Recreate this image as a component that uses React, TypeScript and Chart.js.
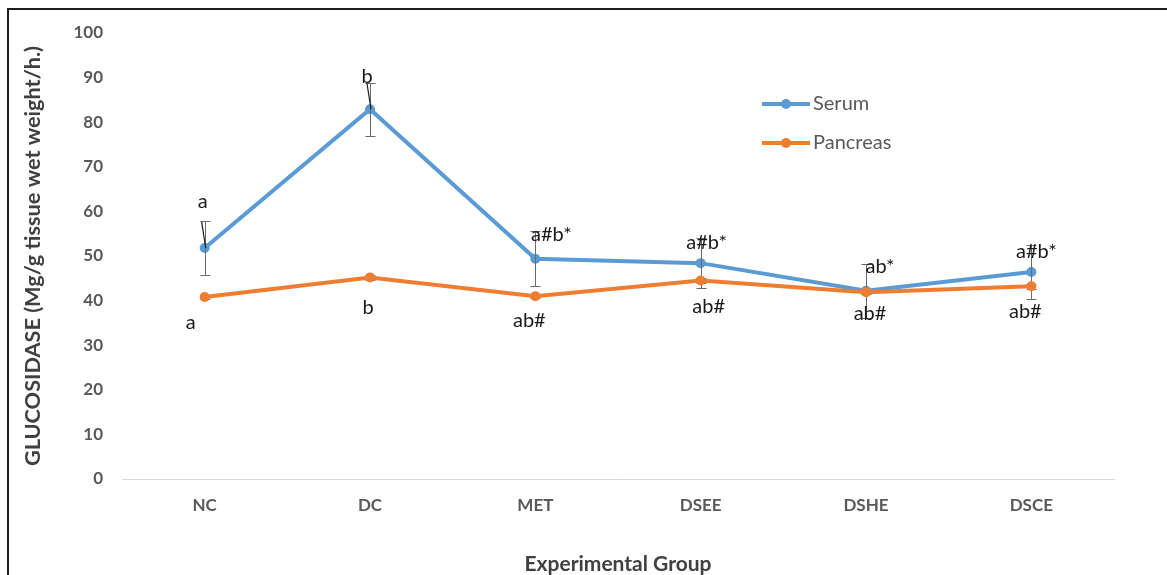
import React, { useEffect, useRef } from "react";
import { Chart, registerables } from "chart.js";

Chart.register(...registerables);

// ---- data ----
const categories = ["NC", "DC", "MET", "DSEE", "DSHE", "DSCE"];
const serumValues = [51.8, 82.9, 49.4, 48.4, 42.2, 46.4];
const serumErrors = [6.1, 6.0, 6.1, 5.6, 6.0, 6.0];
const pancreasValues = [40.8, 45.2, 41.0, 44.5, 41.9, 43.2];
const pancreasErrors = [0.5, 0.5, 0.5, 0.6, 0.5, 0.5];
const serumLabels = ["a", "b", "a#b*", "a#b*", "ab*", "a#b*"];
const pancreasLabels = ["a", "b", "ab#", "ab#", "ab#", "ab#"];
const serumLeaders = [true, true, false, false, false, false];
const yMin = 0;
const yMax = 100;
const yStep = 10;

// ---- layout / style (not data) ----
const SERUM_COLOR = "#5B9BD5";
const PANCREAS_COLOR = "#ED7D31";
const FONT = "Lato";
const serumLabelOffsets = [[-2, -46], [-3, -33], [16, -24], [6, -21], [14, -24], [5, -21]];
const pancreasLabelOffsets = [[-14, 26], [-2, 30], [-6, 24], [8, 26], [4, 21], [-6, 25]];

function drawErrorBars(chart: any, values: number[], errors: number[]) {
  const { ctx, scales } = chart;
  const x = scales.x;
  const y = scales.y;
  ctx.save();
  ctx.strokeStyle = "#6b6b6b";
  ctx.lineWidth = 1;
  values.forEach((v, i) => {
    const px = Math.round(x.getPixelForValue(i)) + 0.5;
    const yt = Math.round(y.getPixelForValue(v + errors[i])) + 0.5;
    const yb = Math.round(y.getPixelForValue(v - errors[i])) + 0.5;
    ctx.beginPath();
    ctx.moveTo(px, yt);
    ctx.lineTo(px, yb);
    ctx.moveTo(px - 5, yt);
    ctx.lineTo(px + 5, yt);
    ctx.moveTo(px - 5, yb);
    ctx.lineTo(px + 5, yb);
    ctx.stroke();
  });
  ctx.restore();
}

const annotationPlugin = {
  id: "annotations",
  beforeDatasetDraw(chart: any, args: any) {
    // pancreas error bars sit beneath the pancreas line
    if (args.index === 1) drawErrorBars(chart, pancreasValues, pancreasErrors);
  },
  afterDatasetDraw(chart: any, args: any) {
    if (args.index === 0) drawErrorBars(chart, serumValues, serumErrors);
  },
  afterDatasetsDraw(chart: any) {
    const { ctx, scales } = chart;
    const x = scales.x;
    const y = scales.y;
    ctx.save();
    // leader lines
    ctx.strokeStyle = "#1a1a1a";
    ctx.lineWidth = 1.2;
    serumValues.forEach((v, i) => {
      if (!serumLeaders[i]) return;
      const px = x.getPixelForValue(i);
      const py = y.getPixelForValue(v);
      const yt = y.getPixelForValue(v + serumErrors[i]);
      ctx.beginPath();
      ctx.moveTo(px - 3, yt + 1);
      ctx.lineTo(px + 1, py);
      ctx.stroke();
    });
    // significance labels
    ctx.fillStyle = "#1a1a1a";
    ctx.font = `20px ${FONT}`;
    ctx.textAlign = "center";
    ctx.textBaseline = "middle";
    serumValues.forEach((v, i) => {
      const px = x.getPixelForValue(i);
      const py = y.getPixelForValue(v);
      const [dx, dy] = serumLabelOffsets[i];
      ctx.fillText(serumLabels[i], px + dx, py + dy);
    });
    pancreasValues.forEach((v, i) => {
      const px = x.getPixelForValue(i);
      const py = y.getPixelForValue(v);
      const [dx, dy] = pancreasLabelOffsets[i];
      ctx.fillText(pancreasLabels[i], px + dx, py + dy);
    });
    // legend
    const area = chart.chartArea;
    const lx = area.left + 640;
    const legendRows = [area.top + 71, area.top + 110];
    chart.data.datasets.forEach((ds: any, i: number) => {
      const ly = legendRows[i];
      ctx.strokeStyle = ds.borderColor;
      ctx.lineWidth = 4;
      ctx.beginPath();
      ctx.moveTo(lx, ly);
      ctx.lineTo(lx + 48, ly);
      ctx.stroke();
      ctx.fillStyle = ds.borderColor;
      ctx.beginPath();
      ctx.arc(lx + 24, ly, 5, 0, Math.PI * 2);
      ctx.fill();
      ctx.fillStyle = "#595959";
      ctx.font = `20px ${FONT}`;
      ctx.textAlign = "left";
      ctx.textBaseline = "middle";
      ctx.fillText(ds.label, lx + 51, ly);
    });
    ctx.restore();
  },
};

export default function App() {
  const canvasRef = useRef<HTMLCanvasElement | null>(null);

  useEffect(() => {
    const canvas = canvasRef.current;
    if (!canvas) return;
    const chart = new Chart(canvas, {
      type: "line",
      data: {
        labels: categories,
        datasets: [
          {
            label: "Serum",
            data: serumValues,
            borderColor: SERUM_COLOR,
            backgroundColor: SERUM_COLOR,
            borderWidth: 4,
            pointRadius: 5,
            pointBackgroundColor: SERUM_COLOR,
            pointBorderColor: SERUM_COLOR,
            pointBorderWidth: 0,
            tension: 0,
            order: 2,
          },
          {
            label: "Pancreas",
            data: pancreasValues,
            borderColor: PANCREAS_COLOR,
            backgroundColor: PANCREAS_COLOR,
            borderWidth: 4,
            pointRadius: 5,
            pointBackgroundColor: PANCREAS_COLOR,
            pointBorderColor: PANCREAS_COLOR,
            pointBorderWidth: 0,
            tension: 0,
            order: 1,
          },
        ],
      },
      options: {
        responsive: false,
        animation: false,
        devicePixelRatio: 1,
        layout: { padding: { top: 23, right: 53, bottom: 0, left: 0 } },
        plugins: {
          legend: { display: false },
          tooltip: { enabled: false },
          title: { display: false },
        },
        scales: {
          x: {
            offset: true,
            grid: { display: false, drawTicks: false },
            border: { display: true, color: "#d9d9d9", width: 1 },
            ticks: {
              color: "#595959",
              padding: 16,
              font: { family: FONT, size: 17, weight: "bold" },
            },
            title: {
              display: true,
              text: "Experimental Group",
              color: "#404040",
              font: { family: FONT, size: 21, weight: "bold", lineHeight: 1 },
              padding: { top: 0, bottom: 0 },
            },
            afterFit: (scale: any) => {
              scale.height = 96;
            },
          },
          y: {
            min: yMin,
            max: yMax,
            grid: { display: false, drawTicks: false },
            border: { display: false },
            ticks: {
              stepSize: yStep,
              color: "#595959",
              padding: 19,
              font: { family: FONT, size: 17, weight: "bold" },
            },
            title: {
              display: true,
              text: "GLUCOSIDASE (Mg/g tissue wet weight/h.)",
              color: "#404040",
              font: { family: FONT, size: 21.7, weight: "bold", lineHeight: 1.2 },
              padding: { top: 11, bottom: 0 },
            },
            afterFit: (scale: any) => {
              scale.width = 113;
              scale.paddingTop = 0;
              scale.paddingBottom = 0;
            },
          },
        },
      },
      plugins: [annotationPlugin],
    });
    return () => chart.destroy();
  }, []);

  return (
    <div
      style={{
        position: "fixed",
        left: 7,
        top: 8,
        borderLeft: "2px solid #1e1e1e",
        borderTop: "2px solid #1e1e1e",
        background: "#fff",
      }}
    >
      <canvas ref={canvasRef} width={1158} height={565} style={{ display: "block" }} />
    </div>
  );
}
